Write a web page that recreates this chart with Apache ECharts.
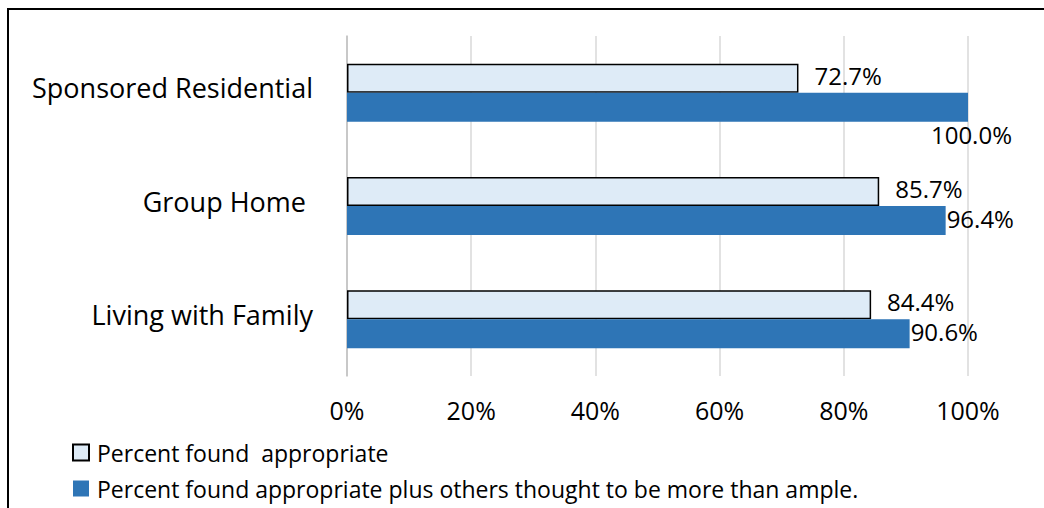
<!DOCTYPE html>
<html>
<head>
<meta charset="utf-8">
<script src="https://cdn.jsdelivr.net/npm/echarts@6/dist/echarts.min.js"></script>
<style>
  html, body { margin: 0; padding: 0; background: #fff; }
  #chart { width: 1044px; height: 508px; }
</style>
</head>
<body>
<div id="chart"></div>
<script>
// top to bottom
const categories = ['Sponsored Residential', 'Group Home ', 'Living with Family'];
const appropriate = [72.7, 85.7, 84.4];
const appropriatePlus = [100.0, 96.4, 90.6];
const xTicks = [0, 20, 40, 60, 80, 100];

const FONT = '"Open Sans"';
const chart = echarts.init(document.getElementById('chart'), null, { renderer: 'svg' });

chart.setOption({
    animation: false,
    textStyle: { fontFamily: FONT },
    graphic: [{
        type: 'rect',
        shape: { x: 8, y: 9, width: 1200, height: 700 },
        style: { fill: 'none', stroke: '#000', lineWidth: 2 },
        silent: true
    }],
    grid: { left: 347, right: 76, top: 36, bottom: 132 },
    legend: {
        orient: 'vertical',
        left: 72,
        top: 441,
        padding: 0,
        itemGap: 13,
        itemWidth: 16,
        itemHeight: 16,
        icon: 'rect',
        textStyle: { fontSize: 23, color: '#000', fontFamily: FONT, padding: [0, 0, 0, 3] },
        data: ['Percent found  appropriate', 'Percent found appropriate plus others thought to be more than ample.']
    },
    xAxis: {
        type: 'value',
        min: xTicks[0],
        max: xTicks[xTicks.length - 1],
        interval: 20,
        axisLine: { show: false },
        axisTick: { show: false },
        axisLabel: { formatter: '{value}%', fontSize: 25, color: '#000', margin: 21 },
        splitLine: { lineStyle: { color: '#d9d9d9', width: 1.5 } }
    },
    yAxis: {
        type: 'category',
        inverse: true,
        data: categories,
        axisLine: { show: true, lineStyle: { color: '#bfbfbf', width: 1.5 } },
        axisTick: { show: false },
        axisLabel: {
            color: '#000', margin: 34,
            formatter: v => '{c|' + v + '}',
            rich: { c: { fontSize: 27, fontFamily: FONT, color: '#000', padding: [0, 0, 10, 0] } }
        }
    },
    series: [{
        name: 'Percent found  appropriate',
        type: 'bar',
        data: appropriate,
        barWidth: 29,
        barGap: 0,
        itemStyle: { color: '#deebf7', borderColor: '#000', borderWidth: 1.5 },
        label: {
            show: true, position: 'right', distance: 16,
            formatter: p => p.value.toFixed(1) + '%',
            fontSize: 24, color: '#000', offset: [0, -3]
        }
    }, {
        name: 'Percent found appropriate plus others thought to be more than ample.',
        type: 'bar',
        data: appropriatePlus.map((v, i) => v >= 100 ? {
            value: v,
            label: { position: 'insideBottomRight', offset: [45, 26] }
        } : v),
        barWidth: 29,
        itemStyle: { color: '#2e75b6' },
        label: {
            show: true, position: 'right', distance: 1,
            formatter: p => p.value.toFixed(1) + '%',
            fontSize: 24, color: '#000', offset: [0, -2]
        }
    }]
});
</script>
</body>
</html>
